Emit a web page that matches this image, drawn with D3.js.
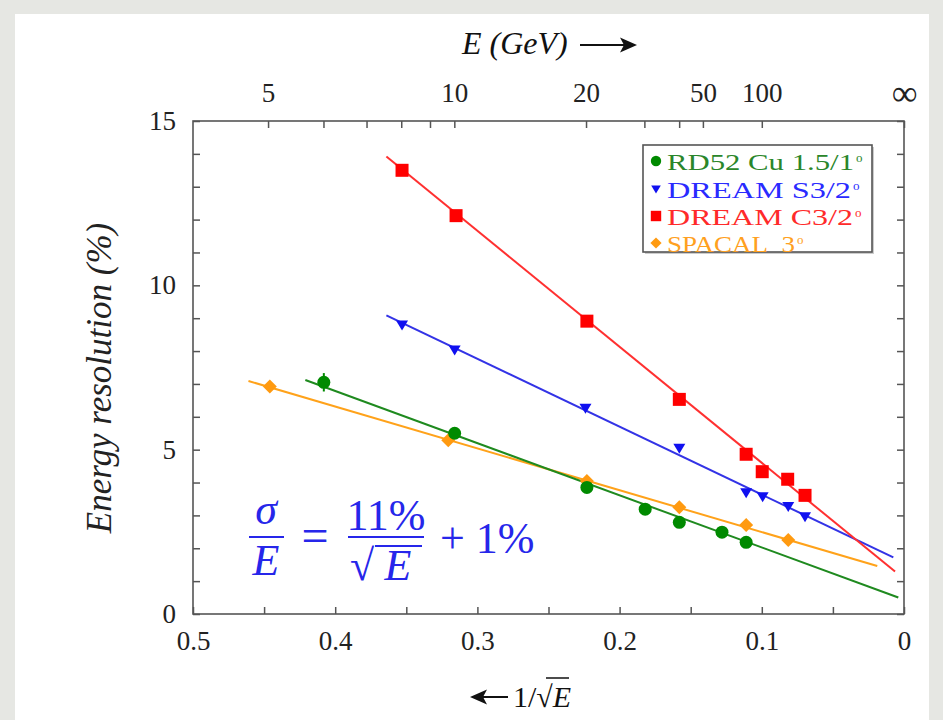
<!DOCTYPE html>
<html><head><meta charset="utf-8">
<script src="https://cdn.jsdelivr.net/npm/d3@7"></script>
<style>body{margin:0;background:#e6e7e3} svg{display:block}</style>
</head><body><svg id="c" width="943" height="720"></svg>
<script>
// ---------- data (x = 1/sqrt(E), y = resolution in %) ----------
const seriesNames = ["RD52 Cu 1.5/1", "DREAM S3/2", "DREAM C3/2", "SPACAL\u00A0\u00A03"];
const rd52X   = [0.408, 0.316, 0.223, 0.182, 0.158, 0.128, 0.111];
const rd52Y   = [7.05, 5.50, 3.85, 3.19, 2.79, 2.49, 2.18];
const dreamSX = [0.353, 0.316, 0.224, 0.158, 0.111, 0.0994, 0.0814, 0.0696];
const dreamSY = [8.79, 8.03, 6.26, 5.04, 3.69, 3.57, 3.27, 2.96];
const dreamCX = [0.353, 0.315, 0.223, 0.158, 0.111, 0.0997, 0.0818, 0.0696];
const dreamCY = [13.50, 12.12, 8.91, 6.53, 4.86, 4.33, 4.10, 3.61];
const spacalX = [0.446, 0.3205, 0.223, 0.158, 0.111, 0.0814];
const spacalY = [6.92, 5.29, 4.05, 3.25, 2.71, 2.25];
// straight-line fits: y = intercept + slope * x, drawn from fitFrom to fitTo
const fitIntercept = [0.437, 1.565, 1.07, 1.22];
const fitSlope     = [15.87, 20.66, 35.3, 12.73];
const fitFrom      = [0.421, 0.364, 0.364, 0.461];
const fitTo        = [0.004, 0.0075, 0.0063, 0.0188];
const rd52Err = [0.28, 0, 0, 0, 0, 0, 0];
// axis ticks
const bottomTicks = [0, 0.05, 0.1, 0.15, 0.2, 0.25, 0.3, 0.35, 0.4, 0.45, 0.5];
const bottomLabels = [0, 0.1, 0.2, 0.3, 0.4, 0.5];
const yTicks = d3.range(0, 16, 1);
const yLabels = [0, 5, 10, 15];
const topTickE = [5, 6, 7, 8, 9, 10, 20, 30, 40, 50, 100];
const topLabelE = [5, 10, 20, 50, 100];

const lineColors   = ["#1f8a1f", "#3333e6", "#ff3030", "#ffa21a"];
const markerColors = ["#008a00", "#1010f0", "#ff0000", "#ff9a10"];
const textColors   = ["#2a862a", "#2a2aff", "#ff2a2a", "#ffa020"];

const svg = d3.select("#c");
const W = 943, H = 720;
const L = 193, R = 904, T = 121, B = 614;
const x = d3.scaleLinear().domain([0.5, 0]).range([L, R]);
const y = d3.scaleLinear().domain([0, 15]).range([B, T]);
const serif = "'Liberation Serif','Times New Roman',serif";
const axisCol = "#555";

// background panel
svg.append("rect").attr("width", W).attr("height", H).attr("fill", "#e6e7e3");
svg.append("rect").attr("x", 15).attr("y", 14).attr("width", 914).attr("height", H).attr("fill", "#fff");

const series = [
  {xs: rd52X, ys: rd52Y}, {xs: dreamSX, ys: dreamSY},
  {xs: dreamCX, ys: dreamCY}, {xs: spacalX, ys: spacalY}
];

function marker(g, i, cx, cy, s) {
  const c = markerColors[i];
  if (i === 0) g.append("circle").attr("cx", cx).attr("cy", cy).attr("r", 6.5 * s).attr("fill", c);
  else if (i === 1) g.append("path").attr("d", `M${cx-6*s},${cy-4.5*s}L${cx+6*s},${cy-4.5*s}L${cx},${cy+5.5*s}Z`).attr("fill", c);
  else if (i === 2) g.append("rect").attr("x", cx-6.5*s).attr("y", cy-6.5*s).attr("width", 13*s).attr("height", 13*s).attr("fill", c);
  else g.append("path").attr("d", `M${cx},${cy-7*s}L${cx+7*s},${cy}L${cx},${cy+7*s}L${cx-7*s},${cy}Z`).attr("fill", c);
}

// fit lines
const plot = svg.append("g");
[3, 0, 1, 2].forEach(i => {
  plot.append("line")
    .attr("x1", x(fitFrom[i])).attr("y1", y(fitIntercept[i] + fitSlope[i] * fitFrom[i]))
    .attr("x2", x(fitTo[i])).attr("y2", y(fitIntercept[i] + fitSlope[i] * fitTo[i]))
    .attr("stroke", lineColors[i]).attr("stroke-width", 2);
});
// error bars
rd52X.forEach((v, j) => {
  if (rd52Err[j] > 0) plot.append("line").attr("x1", x(v)).attr("x2", x(v))
    .attr("y1", y(rd52Y[j] - rd52Err[j])).attr("y2", y(rd52Y[j] + rd52Err[j]))
    .attr("stroke", markerColors[0]).attr("stroke-width", 2);
});
// markers
[3, 0, 1, 2].forEach(i => {
  series[i].xs.forEach((v, j) => marker(plot, i, x(v), y(series[i].ys[j]), 1));
});

// axes
function styleAxis(g) {
  g.select(".domain").remove();
  g.selectAll(".tick line").attr("stroke", axisCol).attr("stroke-width", 1.5);
  g.selectAll("text").attr("font-family", serif).attr("font-size", 27).attr("fill", "#222");
}
svg.append("g").attr("transform", `translate(0,${B})`)
  .call(d3.axisBottom(x).tickValues(bottomTicks).tickSize(-7).tickPadding(17)
    .tickFormat(v => bottomLabels.some(b => Math.abs(b - v) < 1e-9) ? d3.format("~g")(v) : ""))
  .call(styleAxis);
svg.append("g").attr("transform", `translate(${L},0)`)
  .call(d3.axisLeft(y).tickValues(yTicks).tickSize(-7).tickPadding(17)
    .tickFormat(v => yLabels.includes(v) ? String(v) : ""))
  .call(styleAxis);
svg.append("g").attr("transform", `translate(${R},0)`)
  .call(d3.axisRight(y).tickValues(yTicks).tickSize(-7).tickFormat(""))
  .call(styleAxis);
const topAxis = svg.append("g").attr("transform", `translate(0,${T})`)
  .call(d3.axisTop(x).tickValues(topTickE.map(e => 1 / Math.sqrt(e)).concat([0])).tickSize(-7).tickPadding(19)
    .tickFormat(v => {
      if (v === 0) return "\u221E";
      const e = Math.round(1 / (v * v));
      return topLabelE.includes(e) ? String(e) : "";
    }))
  .call(styleAxis);
topAxis.selectAll(".tick").filter(d => d === 0).select("text").attr("font-size", 36).attr("dy", "0.08em");
// frame
svg.append("rect").attr("x", L).attr("y", T).attr("width", R - L).attr("height", B - T)
  .attr("fill", "none").attr("stroke", axisCol).attr("stroke-width", 1.6);

// axis titles
svg.append("text").attr("transform", "translate(111,378) rotate(-90)").attr("text-anchor", "middle")
  .attr("font-family", serif).attr("font-style", "italic").attr("font-size", 35).attr("fill", "#222")
  .text("Energy resolution (%)");
svg.append("text").attr("x", 462).attr("y", 54).attr("font-family", serif).attr("font-style", "italic")
  .attr("font-size", 32).attr("fill", "#111").text("E (GeV)");
svg.append("path").attr("d", "M580,45 L628,45").attr("stroke", "#111").attr("stroke-width", 2);
svg.append("path").attr("d", "M637,45 L620,37.5 L624,45 L620,52.5 Z").attr("fill", "#111");
// bottom title
svg.append("path").attr("d", "M478,697 L508,697").attr("stroke", "#111").attr("stroke-width", 2);
svg.append("path").attr("d", "M470,697 L487,689.5 L483,697 L487,704.5 Z").attr("fill", "#111");
const bt = svg.append("text").attr("x", 513).attr("y", 707).attr("font-family", serif).attr("font-size", 30).attr("fill", "#111");
bt.append("tspan").text("1/\u221A");
bt.append("tspan").attr("font-style", "italic").text("E");
svg.append("line").attr("x1", 546).attr("x2", 569).attr("y1", 678).attr("y2", 678).attr("stroke", "#111").attr("stroke-width", 1.5);

// legend
const lg = svg.append("g");
lg.append("rect").attr("x", 645).attr("y", 147).attr("width", 229).attr("height", 107).attr("fill", "#ccc");
lg.append("rect").attr("x", 643).attr("y", 145).attr("width", 229).attr("height", 107)
  .attr("fill", "#fff").attr("stroke", "#555").attr("stroke-width", 1.6);
const supers = ["o", "o", "o", "o"];
const rowY = [161, 189, 216, 243];
const labelWidths = [187, 184, 186, 128];
seriesNames.forEach((n, i) => {
  marker(lg, i, 656, rowY[i], 0.8);
  lg.append("text").attr("x", 667).attr("y", rowY[i] + 9).attr("font-family", serif)
    .attr("font-size", 24).attr("fill", textColors[i])
    .attr("textLength", labelWidths[i]).attr("lengthAdjust", "spacingAndGlyphs")
    .text(n);
  lg.append("text").attr("x", 667 + labelWidths[i] + 2).attr("y", rowY[i] + 1).attr("font-family", serif)
    .attr("font-size", 13).attr("fill", textColors[i]).text(supers[i]);
});

// formula
const fc = "#2626ea";
const f = svg.append("g").attr("fill", fc).attr("font-family", serif).attr("font-size", 44);
f.append("text").attr("x", 266).attr("y", 524).attr("text-anchor", "middle").attr("font-style", "italic").text("\u03C3");
f.append("line").attr("x1", 249).attr("x2", 284).attr("y1", 537).attr("y2", 537).attr("stroke", fc).attr("stroke-width", 2);
f.append("text").attr("x", 266).attr("y", 575).attr("text-anchor", "middle").attr("font-style", "italic").text("E");
f.append("text").attr("x", 315).attr("y", 552).attr("text-anchor", "middle").attr("font-size", 48).text("=");
f.append("text").attr("x", 386).attr("y", 530).attr("text-anchor", "middle").text("11%");
f.append("line").attr("x1", 348).attr("x2", 424).attr("y1", 537).attr("y2", 537).attr("stroke", fc).attr("stroke-width", 2);
f.append("text").attr("x", 350).attr("y", 580).text("\u221A");
f.append("line").attr("x1", 375).attr("x2", 422).attr("y1", 546).attr("y2", 546).attr("stroke", fc).attr("stroke-width", 2);
f.append("text").attr("x", 398).attr("y", 580).attr("text-anchor", "middle").attr("font-style", "italic").text("E");
f.append("text").attr("x", 440).attr("y", 553).text("+ 1%");
</script></body></html>
